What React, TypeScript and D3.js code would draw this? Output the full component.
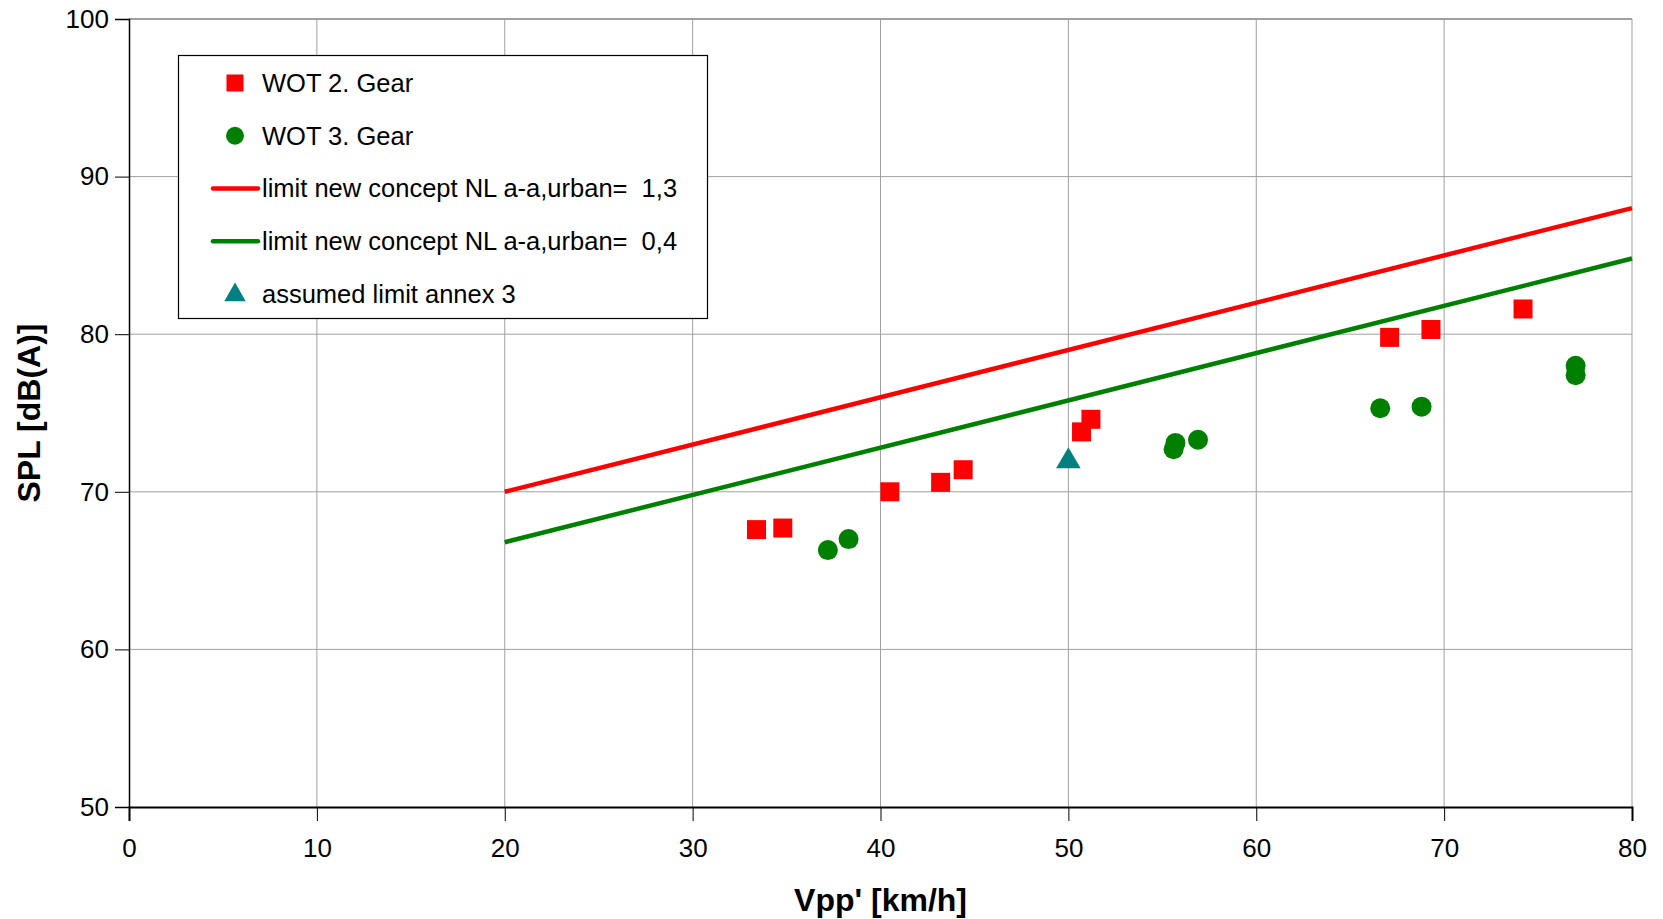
import React, { useEffect, useRef } from 'react';
import * as d3 from 'd3';

const gear2 = [
  [33.4, 67.6], [34.8, 67.7], [40.5, 70.0], [43.2, 70.6], [44.4, 71.4],
  [50.7, 73.8], [51.2, 74.6], [67.1, 79.8], [69.3, 80.3], [74.2, 81.6],
];
const gear3 = [
  [37.2, 66.3], [38.3, 67.0], [55.6, 72.7], [55.7, 73.1], [56.9, 73.3],
  [66.6, 75.3], [68.8, 75.4], [77.0, 78.0], [77.0, 77.4],
];
const limitRed = [[20, 70], [80, 88]];
const limitGreen = [[20, 66.8], [80, 84.8]];
const annex3 = [[50, 72]];
const xTicks = [0, 10, 20, 30, 40, 50, 60, 70, 80];
const yTicks = [50, 60, 70, 80, 90, 100];
const legendItems = [
  { label: 'WOT 2. Gear', kind: 'square', color: '#ff0000' },
  { label: 'WOT 3. Gear', kind: 'circle', color: '#008000' },
  { label: 'limit new concept NL a-a,urban=  1,3', kind: 'line', color: '#ff0000' },
  { label: 'limit new concept NL a-a,urban=  0,4', kind: 'line', color: '#008000' },
  { label: 'assumed limit annex 3', kind: 'triangle', color: '#008080' },
];

const W = 1663;
const H = 919;

const App = () => {
  const ref = useRef<SVGSVGElement>(null);

  useEffect(() => {
    const svg = d3.select(ref.current);
    svg.selectAll('*').remove();

    const margin = { top: 19, right: 31, bottom: 112, left: 129 };
    const x = d3.scaleLinear().domain([0, 80]).range([margin.left, W - margin.right]);
    const y = d3.scaleLinear().domain([50, 100]).range([H - margin.bottom, margin.top]);
    const font = '"Liberation Sans", Arial, sans-serif';

    // grid
    svg.append('g')
      .selectAll('line')
      .data(xTicks.slice(1))
      .enter().append('line')
      .attr('x1', d => x(d)).attr('x2', d => x(d))
      .attr('y1', y(100)).attr('y2', y(50))
      .attr('stroke', '#a0a0a0').attr('stroke-width', 1);
    svg.append('g')
      .selectAll('line')
      .data(yTicks.slice(1))
      .enter().append('line')
      .attr('x1', x(0)).attr('x2', x(80))
      .attr('y1', d => y(d)).attr('y2', d => y(d))
      .attr('stroke', '#a0a0a0').attr('stroke-width', d => (d === 100 ? 2 : 1));

    // axes
    const yAxis = svg.append('g')
      .attr('transform', `translate(${x(0)},0)`)
      .call(d3.axisLeft(y).tickValues(yTicks).tickSize(14).tickPadding(6));
    const xAxis = svg.append('g')
      .attr('transform', `translate(0,${y(50)})`)
      .call(d3.axisBottom(x).tickValues(xTicks).tickSize(14).tickPadding(18));
    [xAxis, yAxis].forEach(g => {
      g.select('.domain').attr('stroke', '#000').attr('stroke-width', 1.5);
      g.selectAll('.tick line').attr('stroke', '#000');
      g.selectAll('.tick text')
        .attr('fill', '#000')
        .style('font-family', font)
        .style('font-size', '26px');
    });
    xAxis.select('.domain').attr('stroke-width', 2);

    // limit lines
    const line = d3.line<number[]>().x(d => x(d[0])).y(d => y(d[1]));
    svg.append('path').datum(limitRed).attr('d', line)
      .attr('fill', 'none').attr('stroke', '#ff0000').attr('stroke-width', 4.5);
    svg.append('path').datum(limitGreen).attr('d', line)
      .attr('fill', 'none').attr('stroke', '#008000').attr('stroke-width', 4.5);

    // points
    const sq = 19;
    svg.append('g').selectAll('rect')
      .data(gear2).enter().append('rect')
      .attr('x', d => x(d[0]) - sq / 2).attr('y', d => y(d[1]) - sq / 2)
      .attr('width', sq).attr('height', sq)
      .attr('fill', '#ff0000');
    svg.append('g').selectAll('circle')
      .data(gear3).enter().append('circle')
      .attr('cx', d => x(d[0])).attr('cy', d => y(d[1])).attr('r', 10)
      .attr('fill', '#008000');
    const tri = d3.symbol().type(d3.symbolTriangle).size(260);
    svg.append('g').selectAll('path')
      .data(annex3).enter().append('path')
      .attr('d', tri)
      .attr('transform', d => `translate(${x(d[0])},${y(d[1]) + 1})`)
      .attr('fill', '#008080');

    // axis titles
    svg.append('text')
      .attr('x', (x(0) + x(80)) / 2).attr('y', 911)
      .attr('text-anchor', 'middle')
      .style('font-family', font).style('font-size', '32px').style('font-weight', 'bold')
      .text("Vpp' [km/h]");
    svg.append('text')
      .attr('transform', `translate(40,${(y(50) + y(100)) / 2}) rotate(-90)`)
      .attr('text-anchor', 'middle')
      .style('font-family', font).style('font-size', '32px').style('font-weight', 'bold')
      .text('SPL [dB(A)]');

    // legend
    const lg = svg.append('g');
    lg.append('rect')
      .attr('x', 178.5).attr('y', 55.5).attr('width', 529).attr('height', 263)
      .attr('fill', '#fff').attr('stroke', '#000').attr('stroke-width', 1.2);
    const rowY = d3.scaleLinear().domain([0, 4]).range([83, 294]);
    legendItems.forEach((item, i) => {
      const cy = rowY(i);
      const cx = 235;
      if (item.kind === 'square') {
        lg.append('rect').attr('x', cx - 8.5).attr('y', cy - 8.5).attr('width', 17).attr('height', 17)
          .attr('fill', item.color);
      } else if (item.kind === 'circle') {
        lg.append('circle').attr('cx', cx).attr('cy', cy).attr('r', 9).attr('fill', item.color);
      } else if (item.kind === 'line') {
        lg.append('line').attr('x1', 213).attr('x2', 258).attr('y1', cy).attr('y2', cy)
          .attr('stroke', item.color).attr('stroke-width', 4.5).attr('stroke-linecap', 'round');
      } else {
        lg.append('path').attr('d', d3.symbol().type(d3.symbolTriangle).size(200))
          .attr('transform', `translate(${cx},${cy + 1})`).attr('fill', item.color);
      }
      lg.append('text')
        .attr('x', 262).attr('y', cy).attr('dy', '0.35em')
        .style('font-family', font).style('font-size', '25.5px')
        .style('white-space', 'pre')
        .text(item.label);
    });
  }, []);

  return <svg ref={ref} width={W} height={H} style={{ position: 'absolute', left: 0, top: 0, background: '#fff' }} />;
};

export default App;
